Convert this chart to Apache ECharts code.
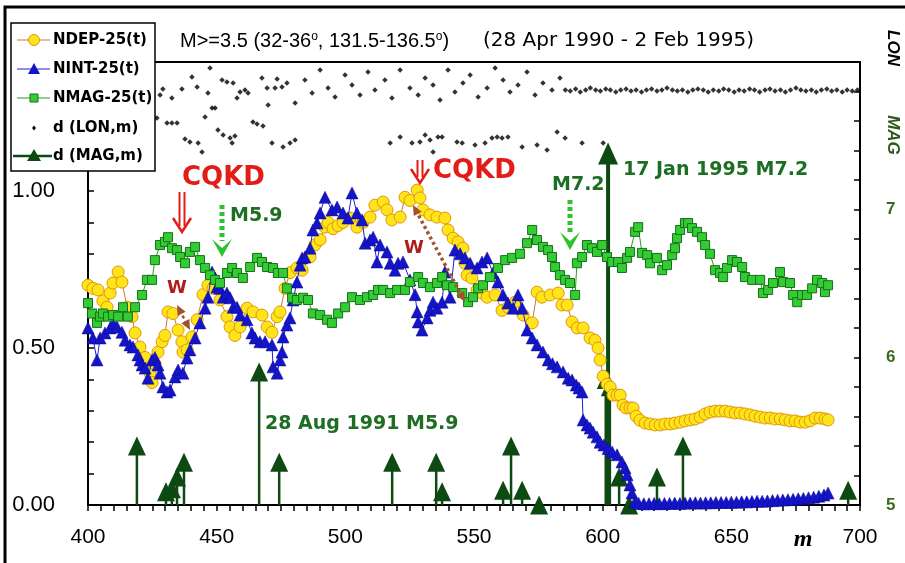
<!DOCTYPE html>
<html><head><meta charset="utf-8">
<script src="https://cdn.jsdelivr.net/npm/echarts@6/dist/echarts.min.js"></script>
<style>html,body{margin:0;padding:0;background:#fff}#c{width:905px;height:563px}</style>
</head><body><div id="c"></div>
<script>
// ---- data: [m, value] ----
const ndep = [
[400.0,0.70],[401.9,0.69],[403.9,0.685],[405.8,0.65],[407.4,0.63],[408.6,0.675],[409.7,0.707],[411.7,0.742],[413.2,0.71],[415.2,0.63],[417.1,0.60],[418.3,0.548],[420.2,0.503],[422.2,0.47],[424.1,0.42],[424.9,0.39],[426.0,0.45],[427.2,0.487],[428.8,0.52],[429.9,0.54],[431.1,0.615],[433.0,0.61],[435.0,0.557],[436.5,0.52],[436.9,0.487],[438.5,0.494],[440.4,0.535],[442.4,0.59],[444.7,0.67],[446.6,0.70],[448.6,0.69],[451.3,0.653],[454.0,0.60],[455.2,0.567],[457.1,0.54],[459.1,0.567],[461.8,0.627],[464.1,0.615],[467.6,0.605],[469.6,0.567],[471.5,0.55],[473.5,0.60],[474.6,0.615],[476.6,0.69],[478.5,0.74],[481.2,0.755],[483.2,0.748],[486.3,0.79],[488.2,0.828],[490.2,0.845],[492.1,0.885],[493.3,0.90],[495.2,0.88],[497.2,0.89],[499.1,0.90],[501.8,0.914],[504.5,0.885],[506.9,0.90],[509.6,0.917],[511.5,0.955],[514.7,0.965],[516.2,0.94],[518.1,0.908],[521.3,0.917],[523.2,0.98],[525.1,0.97],[527.9,1.003],[529.0,0.978],[530.2,0.94],[532.9,0.924],[535.6,0.917],[538.7,0.914],[539.9,0.876],[541.9,0.85],[543.8,0.838],[545.7,0.818],[546.5,0.77],[547.3,0.732],[549.2,0.723],[551.2,0.685],[553.1,0.675],[555.1,0.662],[558.2,0.669],[560.9,0.62],[563.2,0.63],[566.0,0.646],[569.1,0.605],[572.6,0.58],[574.5,0.678],[576.4,0.662],[579.6,0.669],[582.7,0.675],[584.2,0.637],[586.2,0.637],[588.1,0.583],[590.1,0.564],[592.4,0.564],[595.1,0.532],[597.0,0.525],[598.2,0.50],[599.0,0.462],[600.2,0.41],[601.7,0.385],[602.9,0.376],[604.0,0.35],[605.6,0.35],[606.8,0.35],[607.9,0.318],[609.1,0.309],[610.6,0.309],[611.8,0.309],[613.0,0.283],[614.5,0.27],[616.5,0.261],[618.4,0.258],[620.4,0.255],[622.3,0.255],[624.2,0.258],[626.2,0.258],[628.1,0.261],[630.1,0.264],[632.0,0.268],[634.0,0.271],[635.9,0.274],[637.9,0.28],[639.8,0.29],[641.7,0.296],[643.7,0.299],[645.6,0.299],[647.6,0.299],[649.5,0.296],[651.5,0.293],[653.4,0.293],[655.3,0.29],[657.3,0.287],[659.2,0.283],[661.2,0.28],[663.1,0.277],[665.1,0.277],[667.0,0.274],[669.0,0.274],[670.9,0.271],[672.8,0.268],[674.8,0.268],[676.7,0.264],[678.7,0.264],[680.6,0.268],[682.6,0.277],[684.5,0.277],[686.4,0.274],[687.6,0.271]
];
const nint = [
[400.0,0.564],[401.9,0.532],[403.5,0.462],[404.7,0.532],[406.6,0.548],[408.6,0.564],[409.7,0.58],[411.3,0.567],[413.2,0.55],[414.4,0.525],[416.3,0.51],[417.5,0.503],[419.4,0.478],[420.2,0.462],[421.0,0.446],[422.2,0.436],[423.3,0.404],[424.9,0.462],[426.0,0.47],[427.2,0.446],[428.0,0.42],[429.1,0.376],[430.7,0.36],[431.9,0.366],[433.8,0.408],[435.0,0.43],[436.9,0.42],[438.5,0.468],[439.6,0.494],[441.6,0.532],[443.5,0.58],[445.5,0.627],[446.6,0.662],[448.2,0.742],[449.4,0.723],[450.1,0.694],[451.3,0.69],[452.5,0.662],[454.0,0.675],[455.2,0.66],[456.4,0.63],[457.9,0.63],[459.1,0.605],[461.8,0.59],[463.7,0.548],[464.9,0.532],[466.8,0.52],[468.8,0.52],[471.5,0.51],[471.9,0.44],[473.5,0.42],[474.6,0.462],[475.4,0.487],[475.8,0.535],[477.3,0.573],[478.5,0.596],[479.7,0.653],[481.2,0.71],[482.4,0.764],[483.2,0.787],[484.3,0.79],[486.3,0.818],[487.4,0.876],[489.0,0.898],[490.2,0.93],[492.1,0.98],[494.8,0.94],[496.8,0.949],[499.1,0.93],[501.0,0.914],[502.6,0.994],[504.5,0.93],[506.5,0.908],[507.7,0.834],[509.6,0.844],[510.8,0.853],[512.3,0.774],[513.5,0.828],[516.2,0.806],[517.4,0.77],[519.3,0.748],[520.5,0.77],[522.4,0.774],[525.1,0.717],[527.1,0.67],[527.9,0.615],[528.3,0.583],[529.8,0.557],[531.8,0.596],[532.9,0.62],[534.1,0.646],[535.6,0.627],[537.6,0.646],[538.7,0.742],[540.7,0.662],[542.6,0.812],[544.6,0.80],[546.5,0.787],[548.5,0.77],[551.2,0.755],[553.1,0.774],[555.1,0.787],[557.4,0.739],[559.3,0.71],[561.3,0.669],[563.2,0.643],[565.2,0.627],[567.1,0.669],[568.7,0.627],[570.6,0.557],[572.6,0.532],[574.5,0.51],[576.8,0.487],[578.8,0.462],[580.5,0.45],[582.3,0.44],[584.6,0.424],[586.6,0.404],[588.1,0.398],[589.7,0.382],[590.8,0.373],[592.0,0.36],[592.4,0.271],[593.9,0.255],[595.1,0.245],[596.3,0.232],[597.8,0.217],[599.0,0.20],[600.5,0.191],[602.1,0.18],[603.7,0.169],[605.6,0.16],[607.5,0.137],[608.7,0.118],[609.5,0.096],[610.6,0.064],[611.4,0.038],[612.6,0.01],[614,0.005],[616,0.004],[618,0.004],[620,0.005],[622,0.004],[624,0.005],[626,0.005],[628,0.006],[630,0.005],[632,0.006],[634,0.006],[636,0.007],[638,0.006],[640,0.007],[642,0.007],[644,0.008],[646,0.008],[648,0.008],[650,0.009],[652,0.009],[654,0.01],[656,0.01],[658,0.011],[660,0.012],[662,0.012],[664,0.013],[666,0.014],[668,0.015],[670,0.016],[672,0.017],[674,0.018],[676,0.02],[678,0.021],[680,0.023],[682,0.025],[684,0.028],[686,0.032],[687.6,0.038]
];
const nmag = [
[400.0,0.643],[401.6,0.61],[403.5,0.58],[404.7,0.60],[405.8,0.61],[407.8,0.60],[409.7,0.605],[411.7,0.60],[413.6,0.63],[415.5,0.60],[418.3,0.63],[421.0,0.669],[422.9,0.717],[424.9,0.717],[426.0,0.78],[428.0,0.828],[429.9,0.838],[431.1,0.853],[432.6,0.818],[434.6,0.812],[435.8,0.79],[437.7,0.77],[439.6,0.806],[441.6,0.822],[443.5,0.78],[445.5,0.755],[447.4,0.732],[449.4,0.717],[451.3,0.707],[454.0,0.739],[456.0,0.755],[457.9,0.739],[460.2,0.723],[463.0,0.758],[465.7,0.787],[467.6,0.774],[469.6,0.758],[471.9,0.755],[473.8,0.739],[475.8,0.739],[477.3,0.69],[479.3,0.66],[481.2,0.653],[483.6,0.66],[485.5,0.653],[487.4,0.61],[490.2,0.605],[492.9,0.59],[494.8,0.58],[497.2,0.61],[499.9,0.63],[502.6,0.662],[505.7,0.653],[508.4,0.662],[510.8,0.669],[512.7,0.685],[514.7,0.685],[517.4,0.675],[520.1,0.685],[523.2,0.685],[525.1,0.71],[528.3,0.726],[530.2,0.707],[532.9,0.694],[535.6,0.707],[537.6,0.726],[539.5,0.70],[541.9,0.694],[545.4,0.675],[547.7,0.646],[549.6,0.662],[551.6,0.69],[553.5,0.70],[556.2,0.726],[559.3,0.755],[562.1,0.78],[564.8,0.787],[567.9,0.80],[570.6,0.834],[572.6,0.876],[574.5,0.844],[576.8,0.822],[578.8,0.812],[580.3,0.79],[581.5,0.758],[583.4,0.732],[585.4,0.717],[587.3,0.707],[589.3,0.669],[590.0,0.77],[592.0,0.79],[593.9,0.828],[595.9,0.818],[597.8,0.806],[599.8,0.828],[601.7,0.79],[603.7,0.774],[606.0,0.774],[607.5,0.755],[609.5,0.787],[610.6,0.806],[612.6,0.87],[613.8,0.885],[615.3,0.803],[617.3,0.796],[618.4,0.77],[621.1,0.787],[623.1,0.748],[625.0,0.764],[627.0,0.796],[628.1,0.818],[628.9,0.85],[630.1,0.876],[632.0,0.898],[633.2,0.898],[634.7,0.882],[636.7,0.87],[638.6,0.853],[639.8,0.828],[641.7,0.80],[643.7,0.748],[645.6,0.739],[646.8,0.726],[648.3,0.755],[650.3,0.78],[652.2,0.774],[654.2,0.758],[655.3,0.726],[658.1,0.717],[661.2,0.717],[662.3,0.675],[664.3,0.685],[666.2,0.707],[668.9,0.742],[670.1,0.71],[672.8,0.707],[674.0,0.669],[675.6,0.646],[677.5,0.669],[679.4,0.669],[681.4,0.69],[683.3,0.717],[685.3,0.707],[686.4,0.678],[687.6,0.70]
];
// longitude of each event (deg E), plotted on the hidden LON scale
const lon = [
[426.8,133.9],[428.0,135.05],[429.1,135.35],[430.7,133.65],[432.6,134.9],[432.6,133.65],[434.6,133.65],[436.5,135.35],[437.7,132.85],[439.6,132.7],[440.4,135.95],[442.4,135.45],[442.8,132.65],[444.3,132.2],[445.5,133.95],[446.6,135.15],[447.4,136.4],[448.2,134.4],[449.4,134.4],[450.5,133.3],[452.1,135.8],[452.5,133.05],[454.0,135.7],[455.2,132.9],[456.0,132.65],[456.4,135.65],[457.1,133.0],[457.9,134.9],[459.1,135.2],[461.0,135.3],[462.2,135.15],[464.1,133.7],[465.7,133.6],[467.6,135.9],[468.0,133.5],[469.6,135.4],[470.0,134.55],[471.5,132.65],[472.7,135.4],[473.5,135.85],[475.4,135.45],[475.8,132.45],[477.3,135.65],[478.5,132.65],[480.5,134.65],[480.5,132.8],
[484.3,135.8],[487.1,135.15],[490.2,136.3],[493.3,135.4],[496.0,134.95],[499.9,136.05],[502.6,135.55],[505.7,135.05],[508.8,136.2],[511.5,135.3],[515.4,135.8],[518.1,134.9],[521.3,136.3],[525.1,135.4],[528.3,135.05],[531.0,135.9],[534.1,135.55],[536.8,134.8],[539.9,136.3],[542.6,135.2],[545.7,135.65],[548.5,136.05],[551.6,134.95],[555.1,135.4],[558.2,136.4],[561.3,135.8],[564.0,135.2],[567.1,135.55],[570.6,136.2],[573.7,135.05],[576.8,135.65],[580.3,135.3],[583.4,135.9],
[517.4,132.65],[521.3,132.95],[525.9,132.65],[529.0,132.7],[531.0,133.05],[532.9,132.8],[534.1,132.2],[536.0,132.95],[537.6,132.95],[543.4,132.7],[545.4,132.65],[550.4,132.55],[554.3,132.65],[557.0,132.9],[559.0,132.95],[560.9,132.9],[563.2,132.95],[568.7,132.45],[574.5,132.55],[578.4,132.3],[582.3,133.2],[585.4,132.9],[592.0,132.65],[600.2,132.65],
[585.5,135.3],[587.4,135.25],[589.5,135.35],[591.3,135.2],[593.4,135.3],[595.2,135.4],[597.3,135.3],[599.1,135.25],[601.2,135.35],[603.0,135.3],[605.1,135.2],[607.0,135.3],[609.1,135.35],[611.0,135.25],[613.0,135.3],[615.1,135.2],[617.0,135.3],[619.0,135.35],[621.1,135.25],[623.0,135.3],[625.0,135.4],[627.1,135.3],[629.0,135.25],[631.0,135.3],[633.1,135.2],[635.0,135.3],[637.0,135.35],[639.1,135.3],[641.0,135.2],[643.0,135.3],[645.1,135.25],[647.0,135.35],[649.0,135.3],[651.1,135.2],[653.0,135.3],[655.0,135.25],[657.1,135.35],[659.0,135.3],[661.0,135.2],[663.1,135.3],[665.0,135.35],[667.0,135.25],[669.1,135.3],[671.0,135.2],[673.0,135.3],[675.1,135.4],[677.0,135.3],[679.0,135.25],[681.1,135.3],[683.0,135.2],[685.0,135.3],[687.1,135.35],[689.0,135.25],[691.0,135.3],[693.1,135.2],[695.0,135.3],[697.0,135.25],[699.0,135.3]
];
// earthquake magnitudes (right axis)
const mag = [
[419.0,5.40],[430.3,5.09],[432.6,5.11],[434.6,5.19],[437.3,5.29],[466.5,5.90],[474.3,5.29],[518.2,5.29],[535.3,5.29],[537.6,5.09],[561.3,5.10],[564.4,5.40],[568.7,5.10],[575.3,5.00],[601.2,5.85],[602.8,5.80],[602.1,7.38],[606.4,5.19],[610.3,5.00],[621.1,5.19],[631.2,5.40],[695.4,5.10]
];
const xLabelStep = 50;
const leftLabels = [0, 0.5, 1.0];
const rightLabels = [5, 6, 7];

// ---- styles ----
const G = '#0d4a12';
const AXC = '#000';
const FONT = '"Liberation Sans", Arial, sans-serif';

const chart = echarts.init(document.getElementById('c'), null, {renderer: 'canvas'});

function near(v, list) { return list.some(t => Math.abs(v - t) < 1e-6); }

const option = {
  animation: false,
  backgroundColor: '#fff',
  grid: {left: 88, right: 45, top: 62, bottom: 58, show: true, borderColor: '#000', borderWidth: 2, backgroundColor: 'transparent'},
  xAxis: {
    type: 'value', min: 400, max: 700, interval: 5,
    axisLine: {lineStyle: {color: AXC, width: 2}},
    axisTick: {inside: false, length: 6, lineStyle: {color: AXC, width: 1.5}},
    axisLabel: {margin: 22, color: '#000', fontSize: 21, fontFamily: FONT,
      formatter: v => (Math.abs(v % xLabelStep) < 1e-6) ? String(v) : ''},
    splitLine: {show: false}
  },
  yAxis: [
    {type: 'value', min: 0, max: 1.411, interval: 0.1, position: 'left',
      axisLine: {show: true, lineStyle: {color: AXC, width: 2}},
      axisTick: {show: true, inside: true, length: 6, lineStyle: {color: AXC, width: 1.5}},
      axisLabel: {margin: 33, color: '#000', fontSize: 22, fontFamily: FONT,
        formatter: v => near(v, leftLabels) ? v.toFixed(2) : ''},
      splitLine: {show: false}},
    {type: 'value', min: 5, max: 8, interval: 0.2, position: 'right',
      axisLine: {show: true, lineStyle: {color: AXC, width: 2}},
      axisTick: {show: true, inside: true, length: 6, lineStyle: {color: AXC, width: 1.5}},
      axisLabel: {margin: 26, color: '#3b6b1e', fontSize: 17, fontWeight: 'bold', fontFamily: FONT,
        formatter: v => near(v, rightLabels) ? String(Math.round(v)) : ''},
      splitLine: {show: false}},
    {type: 'value', min: 114.55, max: 136.7, show: false, position: 'right'}
  ],
  series: [
    {type: 'custom', name: 'd (MAG,m)', xAxisIndex: 0, yAxisIndex: 1, data: mag, z: 1,
      renderItem: (params, api) => {
        const m = api.value(0), v = api.value(1);
        const b = api.coord([m, 5]), t = api.coord([m, v]);
        const big = v > 7;
        const w = big ? 20 : 18, h = big ? 22 : 19;
        return {type: 'group', children: [
          {type: 'line', shape: {x1: b[0], y1: b[1], x2: t[0], y2: t[1]}, style: {stroke: G, lineWidth: big ? 4 : 2.5}},
          {type: 'polygon', shape: {points: [[t[0], t[1] - h / 2], [t[0] - w / 2, t[1] + h / 2], [t[0] + w / 2, t[1] + h / 2]]}, style: {fill: G}}
        ]};
      }},
    {type: 'line', name: 'NDEP-25(t)', yAxisIndex: 0, data: ndep, symbol: 'circle', symbolSize: 12, showAllSymbol: true, z: 3,
      lineStyle: {color: '#c8783c', width: 1}, itemStyle: {color: '#ffe41a', borderColor: '#e0960a', borderWidth: 1}},
    {type: 'line', name: 'NINT-25(t)', yAxisIndex: 0, data: nint, symbol: 'triangle', symbolSize: 12, showAllSymbol: true, z: 4,
      lineStyle: {color: '#2020d0', width: 1}, itemStyle: {color: '#1414c8', borderColor: '#0a0a90', borderWidth: 0.5}},
    {type: 'line', name: 'NMAG-25(t)', yAxisIndex: 0, data: nmag, symbol: 'rect', symbolSize: 9, showAllSymbol: true, z: 5,
      lineStyle: {color: '#2a9a2a', width: 1}, itemStyle: {color: '#33cc33', borderColor: '#16701a', borderWidth: 1}},
    {type: 'scatter', name: 'd (LON,m)', yAxisIndex: 2, data: lon, symbol: 'diamond', symbolSize: 5.5, z: 6,
      itemStyle: {color: '#000'}}
  ]
};
chart.setOption(option);

// ---- decorations (legend box, title, annotations) ----
function arrowHead(tip, from, len, wid, color) {
  const dx = tip[0] - from[0], dy = tip[1] - from[1];
  const L = Math.hypot(dx, dy); const ux = dx / L, uy = dy / L; const px = -uy, py = ux;
  return {type: 'polygon', z: 60, shape: {points: [tip, [tip[0] - ux * len + px * wid / 2, tip[1] - uy * len + py * wid / 2], [tip[0] - ux * len - px * wid / 2, tip[1] - uy * len - py * wid / 2]]}, style: {fill: color}};
}
function greenDotArrow(x, y1, y2) {
  const c = '#2fc22f';
  return [
    {type: 'line', z: 60, shape: {x1: x, y1: y1, x2: x, y2: y2 - 16}, style: {stroke: c, lineWidth: 5, lineDash: [4, 3]}},
    {type: 'polygon', z: 60, shape: {points: [[x - 10, y2 - 18], [x, y2], [x + 10, y2 - 18], [x, y2 - 9]]}, style: {fill: c}}
  ];
}
function redArrow(x, y1, y2) {
  const c = '#e21d17';
  return [
    {type: 'line', z: 60, shape: {x1: x - 2.5, y1: y1, x2: x - 2.5, y2: y2 - 6}, style: {stroke: c, lineWidth: 2}},
    {type: 'line', z: 60, shape: {x1: x + 2.5, y1: y1, x2: x + 2.5, y2: y2 - 6}, style: {stroke: c, lineWidth: 2}},
    {type: 'polyline', z: 60, shape: {points: [[x - 9, y2 - 14], [x, y2], [x + 9, y2 - 14]]}, style: {stroke: c, lineWidth: 2.5, fill: null}}
  ];
}
function brownDouble(a, b, w) {
  const c = '#a0522d';
  const dx = b[0] - a[0], dy = b[1] - a[1], L = Math.hypot(dx, dy), ux = dx / L, uy = dy / L;
  return [
    {type: 'line', z: 60, shape: {x1: a[0] + ux * 6, y1: a[1] + uy * 6, x2: b[0] - ux * 6, y2: b[1] - uy * 6}, style: {stroke: c, lineWidth: w, lineDash: [3, 3]}},
    arrowHead(a, b, 10, 9, c), arrowHead(b, a, 10, 9, c)
  ];
}

const legendY = [40, 69, 98, 128, 156];
const legX1 = 17, legX2 = 50, legC = 34, legT = 53;
const LEGFONT = 'bold 15px "DejaVu Sans", sans-serif';
const legendEls = [
  {type: 'rect', z: 50, shape: {x: 11, y: 23, width: 144, height: 148}, style: {fill: '#fff', stroke: '#000', lineWidth: 1.5}},
  {type: 'line', z: 51, shape: {x1: legX1, y1: legendY[0], x2: legX2, y2: legendY[0]}, style: {stroke: '#c8783c', lineWidth: 1.2}},
  {type: 'circle', z: 52, shape: {cx: legC, cy: legendY[0], r: 5.5}, style: {fill: '#ffe41a', stroke: '#e0960a', lineWidth: 1}},
  {type: 'line', z: 51, shape: {x1: legX1, y1: legendY[1], x2: legX2, y2: legendY[1]}, style: {stroke: '#2020d0', lineWidth: 1.2}},
  {type: 'polygon', z: 52, shape: {points: [[legC, legendY[1] - 6], [legC - 6, legendY[1] + 5], [legC + 6, legendY[1] + 5]]}, style: {fill: '#1414c8'}},
  {type: 'line', z: 51, shape: {x1: legX1, y1: legendY[2], x2: legX2, y2: legendY[2]}, style: {stroke: '#2a9a2a', lineWidth: 1.2}},
  {type: 'rect', z: 52, shape: {x: legC - 4, y: legendY[2] - 4, width: 8, height: 8}, style: {fill: '#33cc33', stroke: '#16701a', lineWidth: 1}},
  {type: 'polygon', z: 52, shape: {points: [[legC, legendY[3] - 2.5], [legC + 2, legendY[3]], [legC, legendY[3] + 2.5], [legC - 2, legendY[3]]]}, style: {fill: '#000'}},
  {type: 'line', z: 51, shape: {x1: 13, y1: legendY[4], x2: 52, y2: legendY[4]}, style: {stroke: G, lineWidth: 2.5}},
  {type: 'polygon', z: 52, shape: {points: [[legC, legendY[4] - 7], [legC - 7, legendY[4] + 5], [legC + 7, legendY[4] + 5]]}, style: {fill: G}}
];
const legendNames = ['NDEP-25(t)', 'NINT-25(t)', 'NMAG-25(t)', 'd (LON,m)', 'd (MAG,m)'];
legendNames.forEach((n, i) => legendEls.push({type: 'text', z: 52, x: legT, y: legendY[i], style: {text: n, font: LEGFONT, fill: '#000', verticalAlign: 'middle', align: 'left'}}));

const annEls = [
  {type: 'text', z: 60, x: 180, y: 41, style: {text: 'M>=3.5 (32-36{s|o}, 131.5-136.5{s|o})', font: '20px "Liberation Sans", Arial, sans-serif', fill: '#000', verticalAlign: 'middle', rich: {s: {fontSize: 12, verticalAlign: 'top', fontFamily: 'Liberation Sans'}}}},
  {type: 'text', z: 60, x: 483, y: 41, style: {text: '(28 Apr 1990 - 2 Feb 1995)', font: '20px "DejaVu Sans", sans-serif', fill: '#000', verticalAlign: 'middle'}},
  {type: 'text', z: 60, x: 893, y: 48, rotation: -Math.PI / 2, style: {text: 'LON', font: 'italic bold 17px "Liberation Sans", Arial', fill: '#000', align: 'center', verticalAlign: 'middle'}},
  {type: 'text', z: 60, x: 893, y: 135, rotation: -Math.PI / 2, style: {text: 'MAG', font: 'italic bold 17px "Liberation Sans", Arial', fill: '#2d5a1a', align: 'center', verticalAlign: 'middle'}},
  {type: 'text', z: 60, x: 803, y: 540, style: {text: 'm', font: 'italic bold 24px "Liberation Serif", serif', fill: '#000', align: 'center', verticalAlign: 'middle'}},
  {type: 'text', z: 60, x: 182, y: 178, style: {text: 'CQKD', font: 'bold 26px "DejaVu Sans", sans-serif', fill: '#e21d17', verticalAlign: 'middle'}},
  {type: 'text', z: 60, x: 433, y: 171, style: {text: 'CQKD', font: 'bold 26px "DejaVu Sans", sans-serif', fill: '#e21d17', verticalAlign: 'middle'}},
  {type: 'text', z: 60, x: 177, y: 288, style: {text: 'W', font: 'bold 18px "DejaVu Sans", sans-serif', fill: '#b01c1c', verticalAlign: 'middle', align: 'center'}},
  {type: 'text', z: 60, x: 414, y: 248, style: {text: 'W', font: 'bold 18px "DejaVu Sans", sans-serif', fill: '#b01c1c', verticalAlign: 'middle', align: 'center'}},
  {type: 'text', z: 60, x: 230, y: 216, style: {text: 'M5.9', font: 'bold 19px "DejaVu Sans", sans-serif', fill: '#1d6e22', verticalAlign: 'middle'}},
  {type: 'text', z: 60, x: 552, y: 185, style: {text: 'M7.2', font: 'bold 19px "DejaVu Sans", sans-serif', fill: '#1d6e22', verticalAlign: 'middle'}},
  {type: 'text', z: 60, x: 623, y: 170, style: {text: '17 Jan 1995 M7.2', font: 'bold 19px "DejaVu Sans", sans-serif', fill: '#1d6e22', verticalAlign: 'middle'}},
  {type: 'text', z: 60, x: 265, y: 424, style: {text: '28 Aug 1991 M5.9', font: 'bold 19px "DejaVu Sans", sans-serif', fill: '#1d6e22', verticalAlign: 'middle'}},
  ...redArrow(182, 192, 232),
  ...redArrow(420, 160, 183),
  ...greenDotArrow(222, 205, 257),
  ...greenDotArrow(570, 200, 250),
  ...brownDouble([413, 205], [465, 302], 3.5),
  ...brownDouble([177, 305], [190, 330], 2.5),
  {type: 'rect', z: 100, shape: {x: 5, y: 7, width: 940, height: 600}, style: {fill: 'none', stroke: '#000', lineWidth: 3}}
];

chart.setOption({graphic: {elements: [...legendEls, ...annEls]}});
</script>
</body></html>
